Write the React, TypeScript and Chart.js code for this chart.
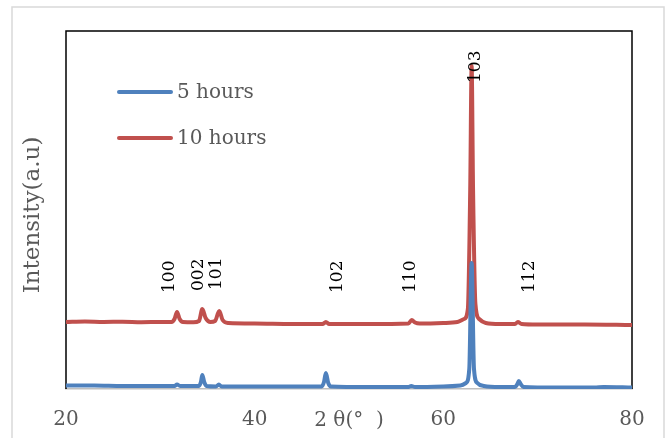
import React, { useEffect, useRef } from "react";
import { Chart, registerables } from "chart.js";

Chart.register(...registerables);

// 2θ axis ticks
const xTicks = [20, 40, 60, 80];

// 5 hours series (2θ, intensity a.u.)
const blueX = [20, 23, 26, 28, 31.5, 31.77, 32.1, 34.1, 34.3, 34.45, 34.65, 34.9, 35.9, 36.2, 36.5, 40, 47.1, 47.35, 47.55, 47.8, 48.1, 52, 56.3, 56.6, 57, 60, 61.8, 62.4, 62.75, 63.0, 63.25, 63.6, 64.3, 66, 67.6, 67.85, 68.0, 68.2, 68.5, 72, 76, 77, 80];
const blueY = [3.5, 3.5, 3, 3, 3, 4.5, 3, 3, 7, 14, 7, 3, 2.5, 4.5, 2.5, 2.5, 2.5, 7, 16, 6, 2.5, 2, 2, 3, 2, 2.5, 3.5, 6, 20, 126, 20, 6, 3, 2, 2, 5, 8, 5, 2, 1.5, 1.5, 2, 1.5];

// 10 hours series
const redX = [20, 22, 24, 26, 28, 30, 31.2, 31.5, 31.77, 32.05, 32.4, 33.5, 34.1, 34.45, 34.8, 35.3, 35.8, 36.25, 36.6, 37.2, 40, 44, 47.2, 47.55, 47.9, 52, 56.3, 56.65, 57.0, 57.5, 60, 61.5, 62.2, 62.6, 62.85, 63.0, 63.15, 63.4, 63.8, 64.5, 66, 67.6, 67.9, 68.3, 70, 75, 80];
const redY = [67, 67.5, 67, 67.3, 66.8, 67, 67, 70, 77, 70, 67, 66.7, 68, 80, 71, 67, 68, 78, 69, 66, 65.5, 65, 65, 67, 65, 65, 65.5, 69, 66.5, 65.5, 66, 67, 70, 80, 200, 323, 200, 85, 70, 66, 65, 65, 67, 65, 64.5, 64.5, 64];

const seriesLabels = ["5 hours", "10 hours"];
const seriesColors = ["#4F81BD", "#C0504D"];

// Miller indices of the peaks and where their labels end (2θ, intensity)
const peakLabels = ["100", "002", "101", "102", "110", "103", "112"];
const peakLabelX = [31.03, 34.1, 36.0, 48.8, 56.5, 63.4, 69.1];
const peakLabelY = [96, 98, 99, 96, 96, 306, 96];

const xTitle = "2 θ(°  )";
const yTitle = "Intensity(a.u)";

const FONT = "'DejaVu Serif', serif";

export default function App() {
  const ref = useRef<HTMLCanvasElement | null>(null);

  useEffect(() => {
    if (!ref.current) return;

    const decor = {
      id: "decor",
      beforeDraw(chart: any) {
        const ctx = chart.ctx;
        ctx.save();
        ctx.fillStyle = "#ffffff";
        ctx.fillRect(0, 0, chart.width, chart.height);
        ctx.strokeStyle = "#d9d9d9";
        ctx.lineWidth = 1.5;
        ctx.beginPath();
        ctx.moveTo(12, 440);
        ctx.lineTo(12, 7);
        ctx.lineTo(664, 7);
        ctx.lineTo(664, 440);
        ctx.stroke();
        ctx.restore();
      },
      beforeDatasetsDraw(chart: any) {
        const { ctx, chartArea } = chart;
        const { left, right, top, bottom } = chartArea;
        ctx.save();
        ctx.strokeStyle = "#000000";
        ctx.lineWidth = 1.5;
        ctx.beginPath();
        ctx.moveTo(left, bottom);
        ctx.lineTo(left, top);
        ctx.lineTo(right, top);
        ctx.lineTo(right, bottom);
        ctx.stroke();
        ctx.restore();
      },
      afterDatasetsDraw(chart: any) {
        const { ctx, chartArea } = chart;
        const xs = chart.scales.x;
        const ys = chart.scales.y;
        ctx.save();
        // peak labels
        ctx.fillStyle = "#000000";
        ctx.font = `17px ${FONT}`;
        ctx.textAlign = "left";
        ctx.textBaseline = "middle";
        peakLabels.forEach((t, i) => {
          const px = xs.getPixelForValue(peakLabelX[i]);
          const py = ys.getPixelForValue(peakLabelY[i]);
          ctx.save();
          ctx.translate(px, py);
          ctx.rotate(-Math.PI / 2);
          ctx.fillText(t, 0, 0);
          ctx.restore();
        });
        // legend
        const ds = chart.data.datasets;
        const legendY = [92, 138];
        ds.forEach((d: any, i: number) => {
          ctx.strokeStyle = d.borderColor;
          ctx.lineWidth = 4;
          ctx.lineCap = "round";
          ctx.beginPath();
          ctx.moveTo(119, legendY[i]);
          ctx.lineTo(171, legendY[i]);
          ctx.stroke();
          ctx.fillStyle = "#595959";
          ctx.font = `20px ${FONT}`;
          ctx.textAlign = "left";
          ctx.textBaseline = "middle";
          ctx.fillText(d.label, 177, legendY[i] + 1);
        });
        // axis titles
        ctx.fillStyle = "#595959";
        ctx.font = `20px ${FONT}`;
        ctx.textAlign = "center";
        ctx.textBaseline = "middle";
        ctx.fillText(xTitle, 349, 421);
        ctx.save();
        ctx.translate(33, (chartArea.top + chartArea.bottom) / 2 + 5);
        ctx.rotate(-Math.PI / 2);
        ctx.font = `23px ${FONT}`;
        ctx.fillText(yTitle, 0, 0);
        ctx.restore();
        ctx.restore();
      },
    };

    const chart = new Chart(ref.current, {
      type: "line",
      data: {
        datasets: [
          {
            label: seriesLabels[0],
            data: blueX.map((x, i) => ({ x, y: blueY[i] })),
            borderColor: seriesColors[0],
            borderWidth: 4,
            pointRadius: 0,
            cubicInterpolationMode: "monotone",
          },
          {
            label: seriesLabels[1],
            data: redX.map((x, i) => ({ x, y: redY[i] })),
            borderColor: seriesColors[1],
            borderWidth: 4,
            pointRadius: 0,
            cubicInterpolationMode: "monotone",
          },
        ],
      },
      options: {
        animation: false,
        responsive: false,
        devicePixelRatio: 1,
        layout: { padding: { left: 66, top: 31, right: 40, bottom: 0 } },
        plugins: { legend: { display: false }, tooltip: { enabled: false } },
        scales: {
          x: {
            type: "linear",
            min: 20,
            max: 80,
            afterBuildTicks: (s: any) => {
              s.ticks = xTicks.map((v) => ({ value: v }));
            },
            afterFit: (s: any) => {
              s.height = 49;
            },
            grid: { display: false, drawTicks: false },
            border: { display: true, color: "#bfbfbf", width: 1.5 },
            ticks: {
              color: "#595959",
              font: { family: FONT, size: 20 },
              padding: 19,
              maxRotation: 0,
              autoSkip: false,
            },
          },
          y: {
            min: 0,
            max: 358,
            afterFit: (s: any) => {
              s.width = 0;
            },
            grid: { display: false, drawTicks: false },
            border: { display: false },
            ticks: { display: false },
          },
        },
      },
      plugins: [decor],
    } as any);

    return () => chart.destroy();
  }, []);

  return (
    <div style={{ position: "absolute", left: 0, top: 0, width: 672, height: 438, background: "#fff" }}>
      <canvas ref={ref} width={672} height={438} />
    </div>
  );
}
